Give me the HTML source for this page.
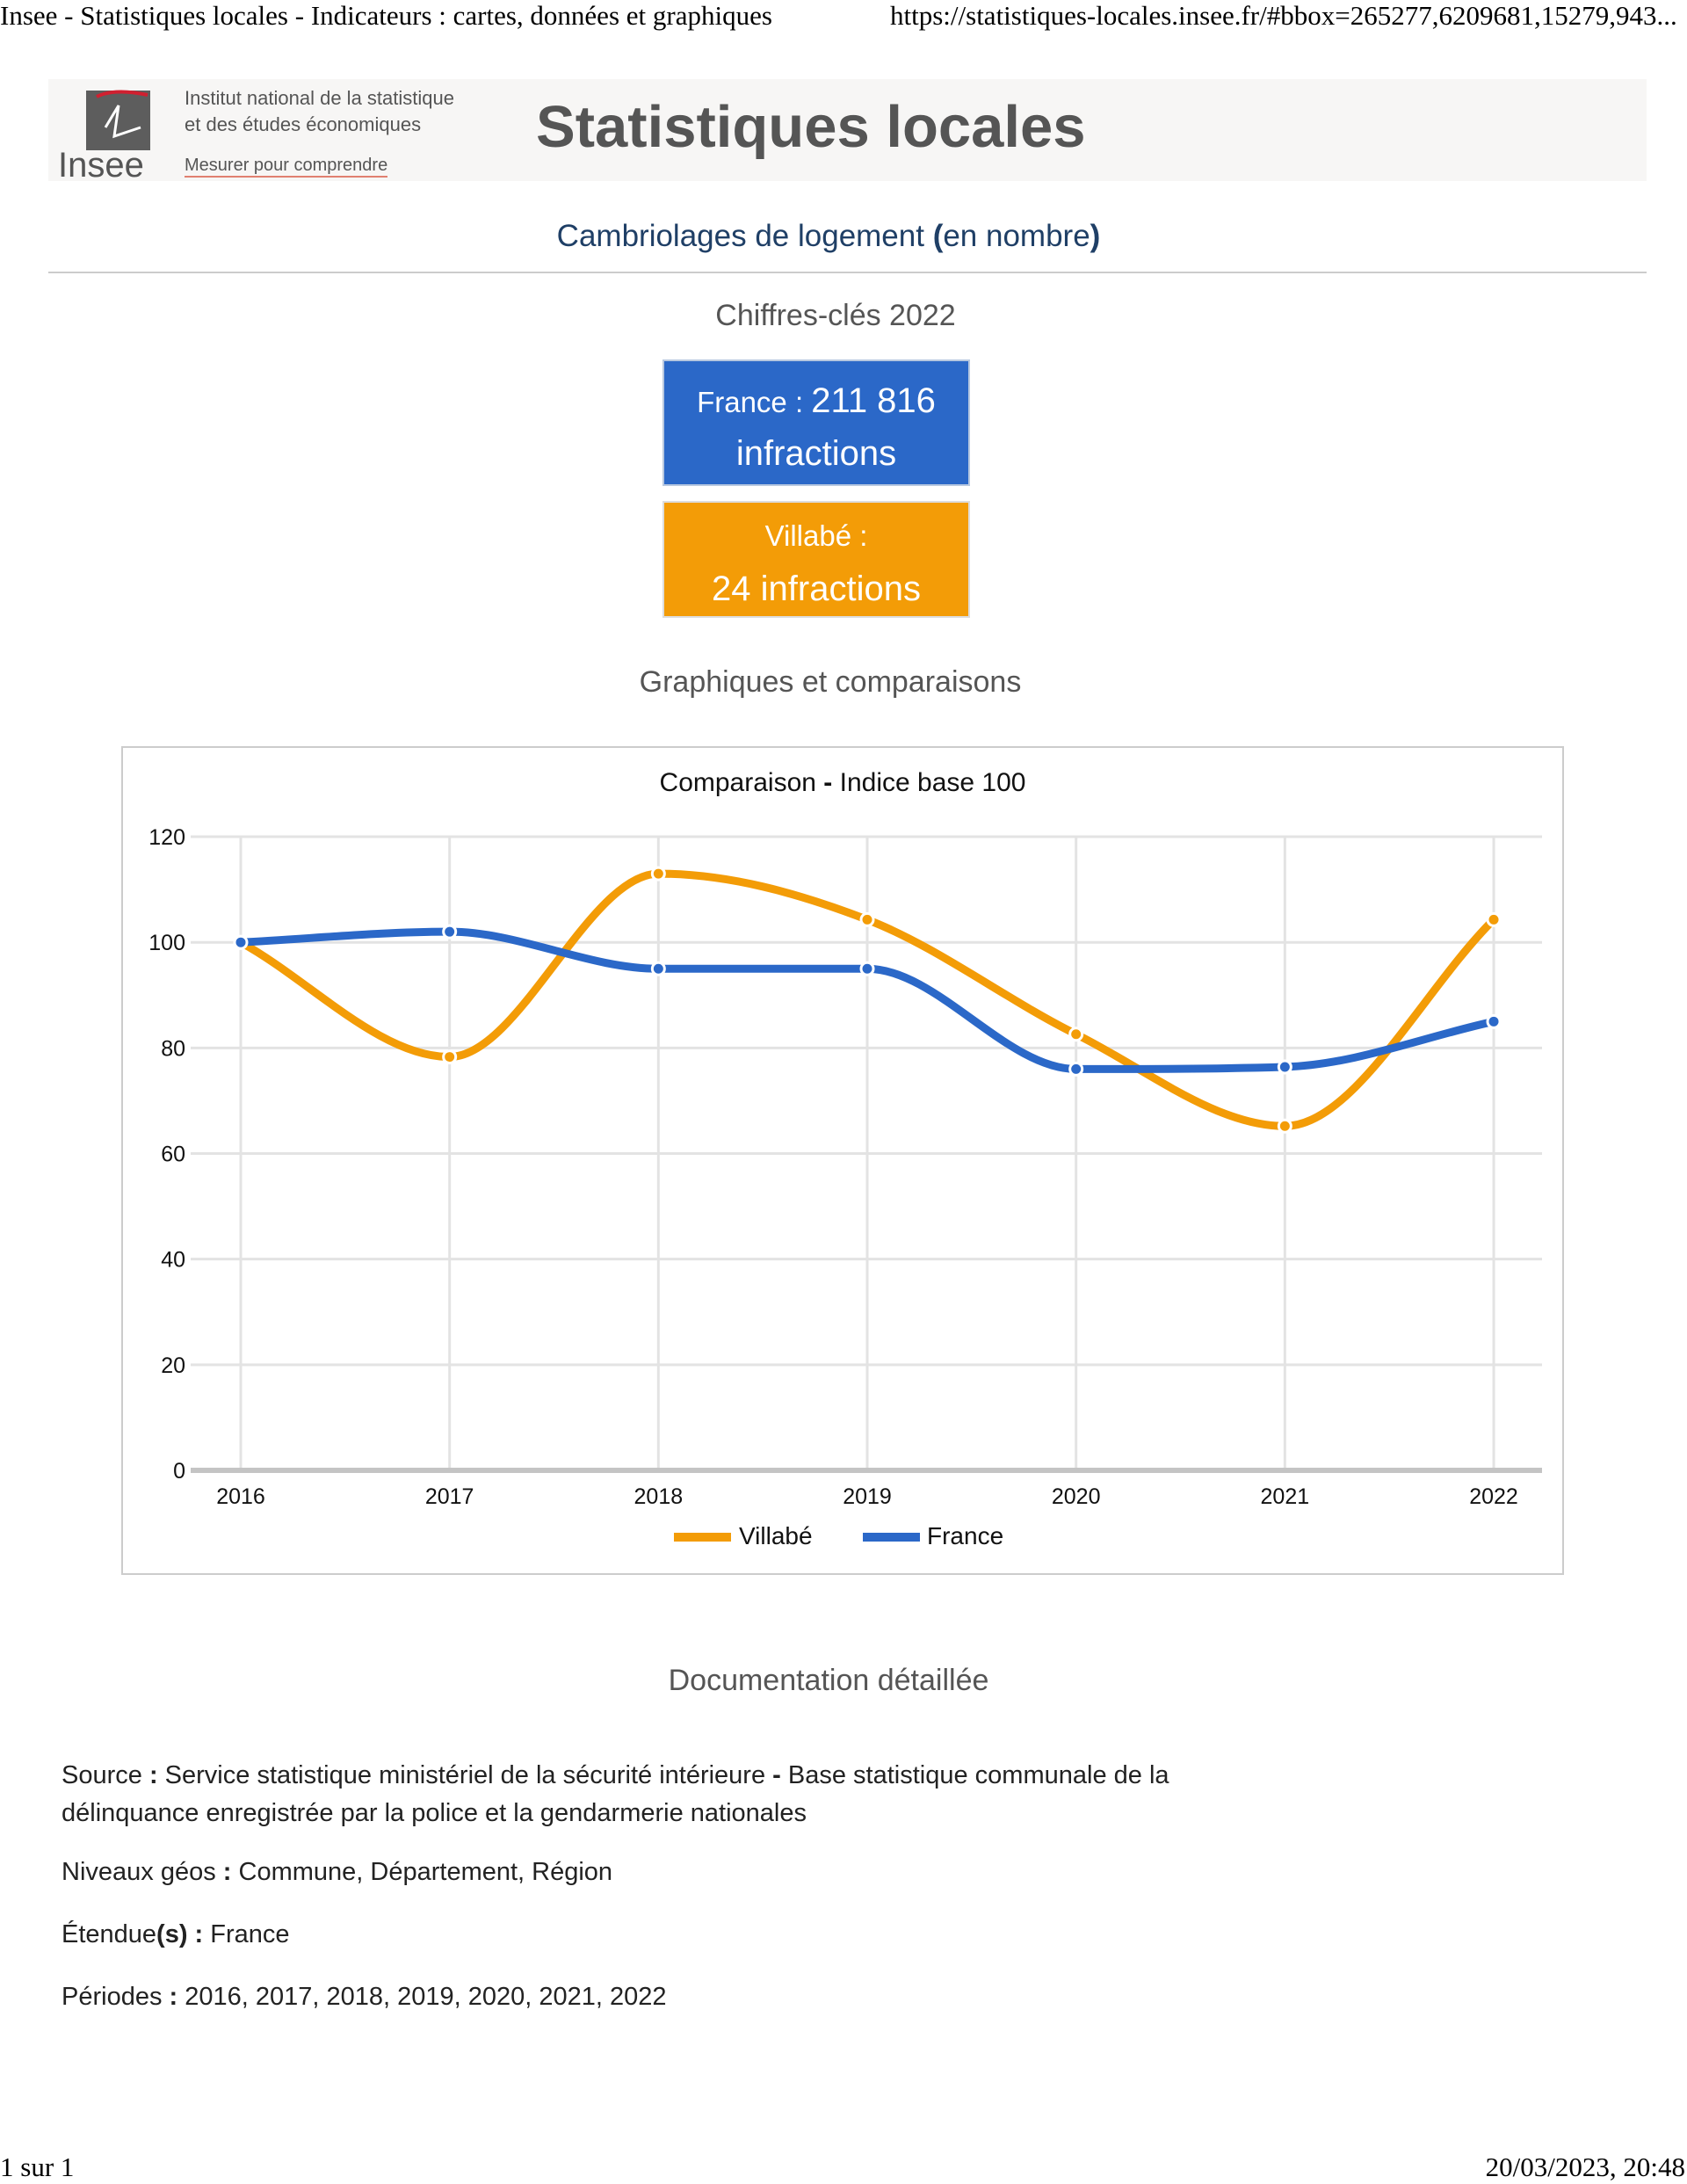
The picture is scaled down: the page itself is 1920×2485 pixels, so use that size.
<!DOCTYPE html>
<html><head><meta charset="utf-8">
<style>
body{margin:0;width:1920px;height:2485px;background:#fff;position:relative;font-family:"Liberation Sans","DejaVu Sans",sans-serif;overflow:hidden}
.a{position:absolute;white-space:nowrap}
.t{font-family:"Liberation Serif",serif;font-size:31px;color:#000}
.c{transform:translateX(-50%)}
.box{position:absolute;left:754px;width:350px;color:#fff;text-align:center;box-sizing:border-box}
</style></head><body>
<div class="a t" style="left:0;top:0">Insee - Statistiques locales - Indicateurs : cartes, données et graphiques</div>
<div class="a t" style="left:1013px;top:0">https://statistiques-locales.insee.fr/#bbox=265277,6209681,15279,943...</div>

<div class="a" style="left:55px;top:90px;width:1819px;height:116px;background:#f7f6f5"></div>
<div class="a" style="left:98px;top:103px;width:73px;height:68px;background:#5d5d5d"></div>
<svg class="a" style="left:90px;top:100px" width="90" height="75"><path d="M20 10 Q40 0 78 8" stroke="#d02030" stroke-width="4" fill="none"/><path d="M30 45 L45 20 L40 55 L70 45" stroke="#fff" stroke-width="3" fill="none"/></svg>
<div class="a" style="left:66px;top:166px;font-size:40px;color:#555">Insee</div>
<div class="a" style="left:210px;top:97px;font-size:22px;color:#555;line-height:30px">Institut national de la statistique<br>et des études économiques</div>
<div class="a" style="left:210px;top:177px;font-size:20px;color:#555;border-bottom:2px solid #e08070">Mesurer pour comprendre</div>
<div class="a" style="left:610px;top:106px;font-size:67px;font-weight:bold;color:#555">Statistiques locales</div>

<div class="a c" style="left:943px;top:249px;font-size:35px;color:#1f3f66">Cambriolages de logement <b>(</b>en nombre<b>)</b></div>
<div class="a" style="left:55px;top:309px;width:1819px;height:2px;background:#ccc"></div>
<div class="a c" style="left:951px;top:340px;font-size:34px;color:#555">Chiffres-clés 2022</div>
<div class="box" style="top:409px;height:144px;background:#2b68c8;border:2px solid #b8c8e0;padding-top:16px;font-size:40px;line-height:58px"><span style="font-size:33px">France : </span>211 816<br>infractions</div>
<div class="box" style="top:570px;height:133px;background:#f39c07;border:2px solid #ddd;padding-top:8px;font-size:33px;line-height:60px">Villabé :<br><span style="font-size:40px">24 infractions</span></div>
<div class="a c" style="left:945px;top:757px;font-size:34px;color:#555">Graphiques et comparaisons</div>

<div class="a" style="left:138px;top:849px;width:1642px;height:943px;border:2px solid #ccc;box-sizing:border-box"></div>
<div class="a c" style="left:959px;top:874px;font-size:30px;color:#111">Comparaison <b>-</b> Indice base 100</div>
<svg class="a" style="left:0;top:0" width="1920" height="1800" id="ch"></svg>
<div class="a" style="left:767px;top:1744px;width:65px;height:10px;background:#f39c07"></div>
<div class="a" style="left:841px;top:1732px;font-size:28px;color:#111">Villabé</div>
<div class="a" style="left:982px;top:1744px;width:65px;height:10px;background:#2b68c8"></div>
<div class="a" style="left:1055px;top:1732px;font-size:28px;color:#111">France</div>

<div class="a c" style="left:943px;top:1893px;font-size:34px;color:#555">Documentation détaillée</div>
<div class="a" style="left:70px;top:1999px;font-size:29px;color:#222;line-height:43px">Source <b>:</b> Service statistique ministériel de la sécurité intérieure <b>-</b> Base statistique communale de la<br>délinquance enregistrée par la police et la gendarmerie nationales</div>
<div class="a" style="left:70px;top:2114px;font-size:29px;color:#222">Niveaux géos <b>:</b> Commune, Département, Région</div>
<div class="a" style="left:70px;top:2185px;font-size:29px;color:#222">Étendue<b>(s) :</b> France</div>
<div class="a" style="left:70px;top:2256px;font-size:29px;color:#222">Périodes <b>:</b> 2016, 2017, 2018, 2019, 2020, 2021, 2022</div>

<div class="a t" style="left:0;top:2448px">1 sur 1</div>
<div class="a t" style="right:2px;top:2448px">20/03/2023, 20:48</div>

<script>
var s=document.getElementById('ch'),h='';
function X(i){return 274+i*237.67}function Y(v){return 1673-v*6.008}
for(var k=0;k<=6;k++){var y=Y(k*20);
 h+='<line x1="217" x2="1755" y1="'+y+'" y2="'+y+'" stroke="'+(k?'#e3e3e3':'#c4c4c4')+'" stroke-width="'+(k?3:6)+'"/>';
 h+='<text x="211" y="'+(y+9)+'" font-size="25" text-anchor="end" fill="#111" font-family="Liberation Sans">'+k*20+'</text>';}
for(var i=0;i<7;i++){h+='<line x1="'+X(i)+'" x2="'+X(i)+'" y1="952" y2="1670" stroke="#e3e3e3" stroke-width="3"/>';
 h+='<text x="'+X(i)+'" y="1711" font-size="25" text-anchor="middle" fill="#111" font-family="Liberation Sans">'+(2016+i)+'</text>';}
function path(d){var p=d.map(function(v,i){return[X(i),Y(v)]}),n=p.length,dx=p[1][0]-p[0][0],m=[],t=[];
 for(var i=0;i<n-1;i++)m.push((p[i+1][1]-p[i][1])/dx);
 t[0]=m[0];t[n-1]=m[n-2];
 for(var i=1;i<n-1;i++){t[i]=(m[i-1]*m[i]<=0)?0:(m[i-1]+m[i])/2;}
 for(var i=0;i<n-1;i++){if(m[i]==0){t[i]=t[i+1]=0;continue;}var a=t[i]/m[i],b=t[i+1]/m[i],q=a*a+b*b;if(q>9){var r=3/Math.sqrt(q);t[i]=r*a*m[i];t[i+1]=r*b*m[i];}}
 var o='M'+p[0];
 for(var i=0;i<n-1;i++){o+='C'+(p[i][0]+dx/3)+','+(p[i][1]+t[i]*dx/3)+' '+(p[i+1][0]-dx/3)+','+(p[i+1][1]-t[i+1]*dx/3)+' '+p[i+1];}
 return [o,p];}
var V=[100,78.3,113,104.3,82.6,65.2,104.3],F=[100,102,95,95,76,76.4,85];
[[V,'#f39c07'],[F,'#2b68c8']].forEach(function(q){var r=path(q[0]);
 h+='<path d="'+r[0]+'" fill="none" stroke="'+q[1]+'" stroke-width="9"/>';
 r[1].forEach(function(p){h+='<circle cx="'+p[0]+'" cy="'+p[1]+'" r="7" fill="'+q[1]+'" stroke="#fff" stroke-width="3"/>';});});
s.innerHTML=h;
</script>
</body></html>
